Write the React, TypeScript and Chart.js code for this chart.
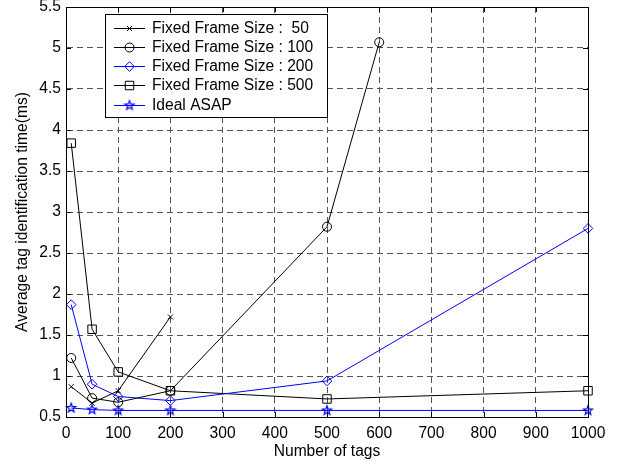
import React, { useEffect, useRef } from 'react';
import { Chart, registerables } from 'chart.js';
import { drawPoint } from 'chart.js/helpers';

Chart.register(...registerables);

// ---- data ----
const tagsFs50 = [10, 50, 100, 200];
const timeFs50 = [0.87, 0.67, 0.82, 1.72];

const tagsFs100 = [10, 50, 100, 200, 500, 600];
const timeFs100 = [1.22, 0.73, 0.68, 0.82, 2.82, 5.07];

const tagsFs200 = [10, 50, 100, 200, 500, 1000];
const timeFs200 = [1.87, 0.9, 0.75, 0.7, 0.94, 2.8];

const tagsFs500 = [10, 50, 100, 200, 500, 1000];
const timeFs500 = [3.84, 1.57, 1.05, 0.82, 0.72, 0.82];

const tagsIdeal = [10, 50, 100, 200, 500, 1000];
const timeIdeal = [0.61, 0.59, 0.58, 0.58, 0.58, 0.58];

const seriesLabels = [
  'Fixed Frame Size :  50',
  'Fixed Frame Size : 100',
  'Fixed Frame Size : 200',
  'Fixed Frame Size : 500',
  'Ideal ASAP',
];

const xMin = 0, xMax = 1000, xStep = 100;
const yMin = 0.5, yMax = 5.5, yStep = 0.5;

const FONT = "'Liberation Sans', Arial, Helvetica, sans-serif";
const FONT_SIZE = 15.6;
const BLUE = '#0000ff';
const BLACK = '#000000';
const GRID = '#555555';

function makeStar(color: string, r: number): HTMLCanvasElement {
  const size = Math.ceil(2 * r + 4);
  const c = document.createElement('canvas');
  c.width = size;
  c.height = size;
  const g = c.getContext('2d')!;
  const cx = size / 2, cy = size / 2;
  const inner = r * 0.42;
  g.beginPath();
  for (let i = 0; i < 10; i++) {
    const rad = i % 2 === 0 ? r : inner;
    const a = -Math.PI / 2 + (i * Math.PI) / 5;
    const px = cx + rad * Math.cos(a);
    const py = cy + rad * Math.sin(a);
    if (i === 0) g.moveTo(px, py); else g.lineTo(px, py);
  }
  g.closePath();
  g.strokeStyle = color;
  g.lineWidth = 1.2;
  g.stroke();
  return c;
}

function toPts(xs: number[], ys: number[]) {
  return xs.map((x, i) => ({ x, y: ys[i] }));
}

const framePlugin = {
  id: 'matlabFrame',
  afterDraw(chart: any) {
    const { ctx, chartArea } = chart;
    const { left, right, top, bottom } = chartArea;
    const xs = chart.scales.x;
    const ys = chart.scales.y;
    ctx.save();
    ctx.strokeStyle = BLACK;
    ctx.lineWidth = 1;
    ctx.setLineDash([]);
    ctx.beginPath();
    const tl = 5;
    for (let v = xMin; v <= xMax + 1e-9; v += xStep) {
      const px = Math.round(xs.getPixelForValue(v)) + 0.5;
      ctx.moveTo(px, bottom); ctx.lineTo(px, bottom - tl);
      ctx.moveTo(px, top); ctx.lineTo(px, top + tl);
    }
    for (let v = yMin; v <= yMax + 1e-9; v += yStep) {
      const py = Math.round(ys.getPixelForValue(v)) + 0.5;
      ctx.moveTo(left, py); ctx.lineTo(left + tl, py);
      ctx.moveTo(right, py); ctx.lineTo(right - tl, py);
    }
    ctx.stroke();
    ctx.strokeRect(Math.round(left) + 0.5, Math.round(top) + 0.5, Math.round(right - left), Math.round(bottom - top));
    ctx.restore();
  },
};

const legendPlugin = {
  id: 'boxLegend',
  afterDraw(chart: any) {
    const ctx = chart.ctx;
    const x0 = 105, y0 = 14, w = 222, h = 103;
    ctx.save();
    ctx.setLineDash([]);
    ctx.fillStyle = '#ffffff';
    ctx.fillRect(x0, y0, w, h);
    ctx.strokeStyle = BLACK;
    ctx.lineWidth = 1;
    ctx.strokeRect(x0 + 0.5, y0 + 0.5, w, h);
    ctx.font = `${FONT_SIZE}px ${FONT}`;
    ctx.textBaseline = 'middle';
    ctx.textAlign = 'left';
    chart.data.datasets.forEach((ds: any, i: number) => {
      const cy = Math.round(27.5 + i * 19.3);
      ctx.strokeStyle = ds.borderColor;
      ctx.lineWidth = 1;
      ctx.beginPath();
      ctx.moveTo(114, cy + 0.5);
      ctx.lineTo(145, cy + 0.5);
      ctx.stroke();
      ctx.strokeStyle = ds.pointBorderColor;
      ctx.fillStyle = 'rgba(0,0,0,0)';
      ctx.lineWidth = 1;
      drawPoint(ctx, { pointStyle: ds.pointStyle, radius: ds.pointRadius, rotation: 0, borderWidth: 1 }, 129.5, cy + 0.5);
      ctx.fillStyle = BLACK;
      ctx.fillText(ds.label, 152, cy + 1);
    });
    ctx.restore();
  },
};

export default function App() {
  const ref = useRef<HTMLCanvasElement>(null);

  useEffect(() => {
    if (!ref.current) return;
    Chart.defaults.font.family = FONT;
    Chart.defaults.font.size = FONT_SIZE;
    Chart.defaults.color = BLACK;
    const star = makeStar(BLUE, 4.8);

    const mk = (label: string, data: any[], color: string, style: any, radius: number) => ({
      label,
      data,
      borderColor: color,
      backgroundColor: 'rgba(0,0,0,0)',
      pointBorderColor: color,
      pointBackgroundColor: 'rgba(0,0,0,0)',
      pointStyle: style,
      pointRadius: radius,
      pointBorderWidth: 1,
      borderWidth: 1,
      tension: 0,
      clip: false as any,
    });

    const chart = new Chart(ref.current, {
      type: 'line',
      data: {
        datasets: [
          mk(seriesLabels[0], toPts(tagsFs50, timeFs50), BLACK, 'crossRot', 3.5),
          mk(seriesLabels[1], toPts(tagsFs100, timeFs100), BLACK, 'circle', 4.5),
          mk(seriesLabels[2], toPts(tagsFs200, timeFs200), BLUE, 'rectRot', 4.8),
          mk(seriesLabels[3], toPts(tagsFs500, timeFs500), BLACK, 'rect', 6),
          mk(seriesLabels[4], toPts(tagsIdeal, timeIdeal), BLUE, star, 4.8),
        ],
      },
      options: {
        responsive: false,
        animation: false,
        layout: { padding: { top: 7, right: 35, left: 0, bottom: 0 } },
        plugins: {
          legend: { display: false },
          tooltip: { enabled: false },
        },
        scales: {
          x: {
            type: 'linear',
            min: xMin,
            max: xMax,
            ticks: { stepSize: xStep, padding: 7, color: BLACK, maxRotation: 0, autoSkip: false, callback: (v: any) => String(v) },
            grid: { color: GRID, lineWidth: 1, drawTicks: false },
            border: { display: true, color: BLACK, width: 1, dash: [6, 4] },
            title: { display: true, text: 'Number of tags', color: BLACK, padding: { top: 0, bottom: 5 } },
            afterFit: (s: any) => { s.height = 49; s.paddingLeft = 0; s.paddingRight = 0; },
          },
          y: {
            type: 'linear',
            min: yMin,
            max: yMax,
            ticks: { stepSize: yStep, padding: 5, color: BLACK, autoSkip: false, callback: (v: any) => String(Math.round(v * 10) / 10) },
            grid: { color: GRID, lineWidth: 1, drawTicks: false },
            border: { display: true, color: BLACK, width: 1, dash: [6, 4] },
            title: { display: true, text: 'Average tag identification time(ms)', color: BLACK, padding: { top: 13, bottom: 0 } },
            afterFit: (s: any) => { s.width = 66; s.paddingTop = 0; s.paddingBottom = 0; },
          },
        },
      },
      plugins: [framePlugin, legendPlugin],
    } as any);
    return () => chart.destroy();
  }, []);

  return (
    <div style={{ position: 'fixed', left: 0, top: 0, width: 623, height: 466, background: '#fff' }}>
      <canvas ref={ref} width={623} height={466} style={{ display: 'block', width: 623, height: 466 }} />
    </div>
  );
}
